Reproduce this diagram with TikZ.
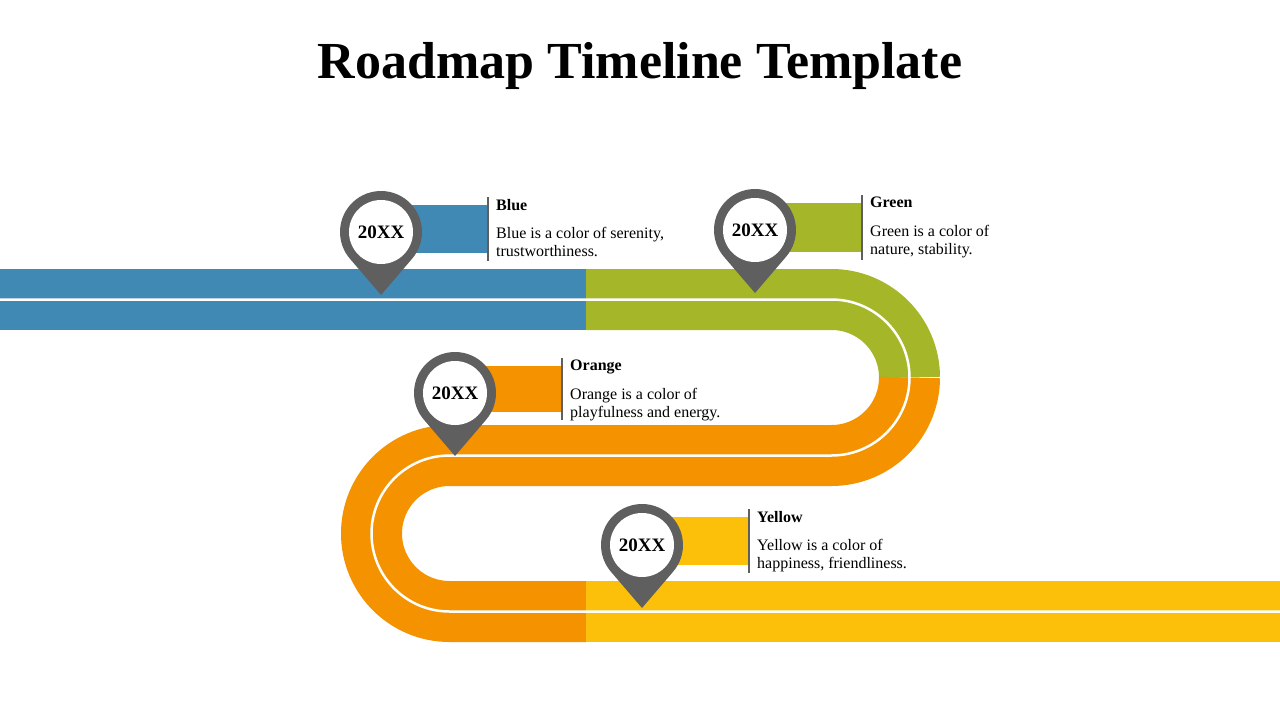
\documentclass[tikz,border=0pt]{standalone}
\usepackage{fontspec}
\setmainfont{Liberation Serif}
\definecolor{cblue}{HTML}{4189B5}
\definecolor{cgreen}{HTML}{A5B629}
\definecolor{corange}{HTML}{F59200}
\definecolor{cyellow}{HTML}{FDC00A}
\definecolor{cpin}{HTML}{5F5F5F}
\newcommand{\mypin}[3]{%
  \fill[cpin] (#2,#3+63) -- ([shift={(#2,#3)}]40.6:41) arc[start angle=40.6,end angle=-220.6,radius=41] -- cycle;
  \node[circle,fill=white,minimum size=64pt,inner sep=0pt,font=\fontsize{19}{20}\selectfont\bfseries] (#1) at (#2,#3) {20XX};}
\newcommand{\myflag}[8]{% name, x1, y1, x2, y2, color, title, text
  \fill[#6] (#2,#3) rectangle (#4,#5);
  \draw[cpin,line width=2.5pt] (#4+1,#3-8) -- (#4+1,#5+8);
  \node[anchor=north west,inner sep=0pt,font=\fontsize{16}{18}\selectfont\bfseries] (#1t) at (#4+9,#3-6) {#7};
  \node[anchor=north west,inner sep=0pt,align=left,font=\fontsize{16}{18}\selectfont] (#1d) at (#4+9,#3+22) {#8};}
\begin{document}
\begin{tikzpicture}[x=1pt,y=-1pt,band/.style={line width=61pt,line cap=butt}]
\useasboundingbox (0,0) rectangle (1280,720);
\node[font=\fontsize{52}{56}\selectfont\bfseries] (title) at (640,66) {Roadmap Timeline Template};
\draw[band,cblue] (0,299.5) -- (586,299.5);
\draw[band,cgreen] (586,299.5) -- (831.5,299.5) arc[start angle=-90,end angle=0,radius=78];
\draw[band,corange] (909.5,377.5) arc[start angle=0,end angle=90,radius=78] -- (449.5,455.5) arc[start angle=270,end angle=90,radius=78] -- (586,611.5);
\draw[band,cyellow] (586,611.5) -- (1280,611.5);
\draw[white,line width=2.5pt] (0,299.5) -- (831.5,299.5) arc[start angle=-90,end angle=90,radius=78] -- (449.5,455.5) arc[start angle=270,end angle=90,radius=78] -- (1280,611.5);
\myflag{b}{400}{205}{487}{253}{cblue}{Blue}{Blue is a color of serenity,\\trustworthiness.}
\myflag{g}{775}{203}{861}{252}{cgreen}{Green}{Green is a color of\\nature, stability.}
\myflag{o}{475}{366}{561}{412}{corange}{Orange}{Orange is a color of\\playfulness and energy.}
\myflag{y}{662}{517}{748}{565}{cyellow}{Yellow}{Yellow is a color of\\happiness, friendliness.}
\mypin{p1}{381}{232}
\mypin{p2}{755}{230}
\mypin{p3}{455}{393}
\mypin{p4}{642}{545}
\end{tikzpicture}
\end{document}
